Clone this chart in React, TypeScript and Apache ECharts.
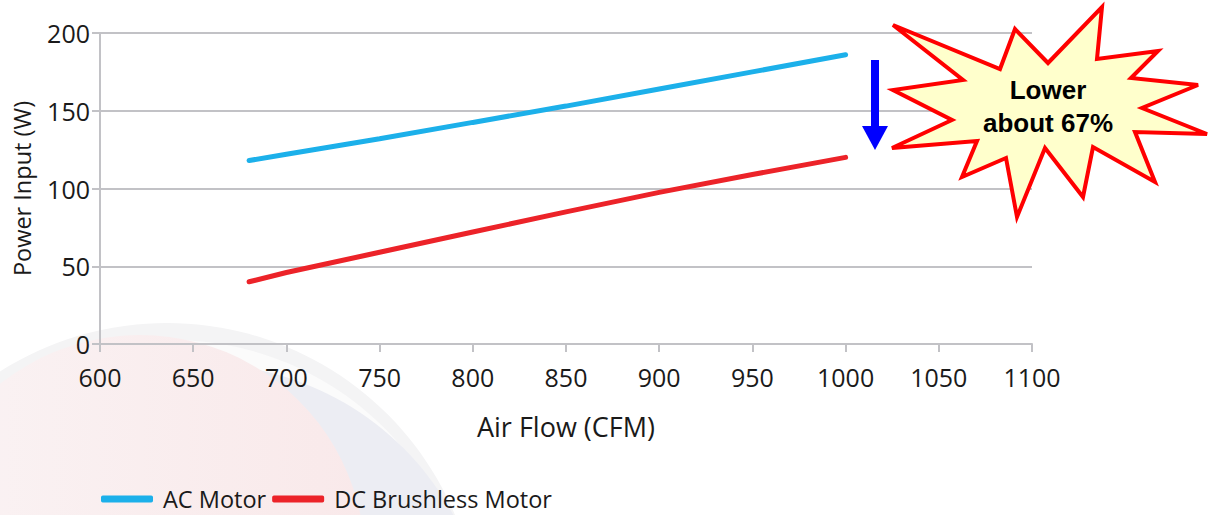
import React, { useEffect, useRef } from "react";
import * as echarts from "echarts";

const airFlow = [680, 700, 750, 800, 850, 900, 950, 1000];
const acMotor = [118, 122, 132, 142.5, 153, 164, 175, 186];
const dcMotor = [40, 46, 59, 72, 85, 97.5, 109, 120];
const xTicks = { min: 600, max: 1100, interval: 50 };
const yTicks = { min: 0, max: 200, interval: 50 };
const seriesNames = ["AC Motor", "DC Brushless Motor"];
const seriesColors = ["#1cb0ea", "#ec2329"];

const starPoints = [
  [893, 25], [1000, 69], [1015, 29], [1048, 63], [1102, 7], [1097, 59],
  [1158, 51], [1131, 78], [1198, 85], [1142, 108], [1207, 134], [1135, 132],
  [1155, 182], [1093, 147], [1083, 197], [1045, 148], [1017, 217], [1006, 158],
  [962, 177], [977, 141], [892, 148], [952, 120], [893, 90], [963, 80],
];

const FONT = "'Open Sans', 'Noto Sans', sans-serif";

export default function App() {
  const ref = useRef<HTMLDivElement>(null);
  useEffect(() => {
    document.body.style.margin = "0";
    if (!ref.current) return;
    const chart = echarts.init(ref.current, null, { renderer: "svg" });
    const gridColor = "#c2c2c6";
    chart.setOption({
      animation: false,
      backgroundColor: "#ffffff",
      grid: { left: 100, top: 33, width: 932, height: 311 },
      xAxis: {
        type: "value",
        min: xTicks.min,
        max: xTicks.max,
        interval: xTicks.interval,
        name: "Air Flow (CFM)",
        nameLocation: "middle",
        nameGap: 69,
        nameTextStyle: { fontFamily: FONT, fontSize: 27, color: "#1a1a1a" },
        axisLine: { show: true, lineStyle: { color: gridColor, width: 2 } },
        axisTick: { show: true, length: 8, lineStyle: { color: gridColor, width: 2 } },
        axisLabel: {
          fontFamily: FONT,
          fontSize: 25,
          color: "#1a1a1a",
          margin: 20,
          formatter: (v: number) => String(v),
        },
        splitLine: { show: false },
      },
      yAxis: {
        type: "value",
        min: yTicks.min,
        max: yTicks.max,
        interval: yTicks.interval,
        name: "Power Input (W)",
        nameLocation: "middle",
        nameRotate: 90,
        nameGap: 66,
        nameTextStyle: { fontFamily: FONT, fontSize: 23.5, color: "#1a1a1a" },
        axisLine: { show: true, lineStyle: { color: gridColor, width: 2 } },
        axisTick: { show: true, length: 8, lineStyle: { color: gridColor, width: 2 } },
        axisLabel: {
          fontFamily: FONT,
          fontSize: 25,
          color: "#1a1a1a",
          margin: 10,
          formatter: (v: number) => String(v),
        },
        splitLine: { show: true, lineStyle: { color: gridColor, width: 2 } },
      },
      legend: {
        left: 96,
        top: 482,
        itemWidth: 52,
        itemHeight: 7,
        itemGap: 6,
        icon: "roundRect",
        textStyle: { fontFamily: FONT, fontSize: 23.5, color: "#1a1a1a", padding: [0, 0, 0, 5] },
        data: seriesNames,
      },
      series: [
        {
          name: seriesNames[0],
          type: "line",
          showSymbol: false,
          color: seriesColors[0],
          lineStyle: { width: 5, cap: "round", color: seriesColors[0] },
          data: airFlow.map((x, i) => [x, acMotor[i]]),
          z: 5,
        },
        {
          name: seriesNames[1],
          type: "line",
          showSymbol: false,
          color: seriesColors[1],
          lineStyle: { width: 5, cap: "round", color: seriesColors[1] },
          data: airFlow.map((x, i) => [x, dcMotor[i]]),
          z: 5,
        },
      ],
      graphic: [
        {
          type: "group",
          z: -10,
          silent: true,
          children: [
            { type: "circle", shape: { cx: 167, cy: 635, r: 312 }, style: { fill: "#f4f4f5" }, z: -10 },
            { type: "circle", shape: { cx: 172, cy: 640, r: 300 }, style: { fill: "#fbfbfb" }, z: -9 },
            { type: "circle", shape: { cx: 200, cy: 652, r: 288 }, style: { fill: "#ecedf3" }, z: -8 },
            {
              type: "circle",
              shape: { cx: 140, cy: 560, r: 225 },
              style: {
                fill: new echarts.graphic.LinearGradient(0, 0, 1, 0, [
                  { offset: 0, color: "#faf3f4" },
                  { offset: 1, color: "#f9e9ea" },
                ]),
              },
              z: -7,
            },
          ],
        },
        {
          type: "rect",
          z: 50,
          shape: { x: 871, y: 60, width: 8, height: 68 },
          style: { fill: "#0000ff" },
        },
        {
          type: "polygon",
          z: 50,
          shape: { points: [[862, 126], [888, 126], [875, 150]] },
          style: { fill: "#0000ff" },
        },
        {
          type: "polygon",
          z: 50,
          shape: { points: starPoints },
          style: { fill: "#ffffcc", stroke: "#ff0000", lineWidth: 4, lineJoin: "miter" },
        },
        {
          type: "text",
          z: 51,
          style: {
            text: "Lower\nabout 67%",
            x: 1048,
            y: 106,
            align: "center",
            verticalAlign: "middle",
            fontFamily: "'Liberation Sans', Arial, sans-serif",
            fontWeight: "bold",
            fontSize: 26,
            lineHeight: 33,
            fill: "#000",
          },
        },
      ],
    });
    return () => chart.dispose();
  }, []);
  return <div ref={ref} style={{ width: 1208, height: 515 }} />;
}
